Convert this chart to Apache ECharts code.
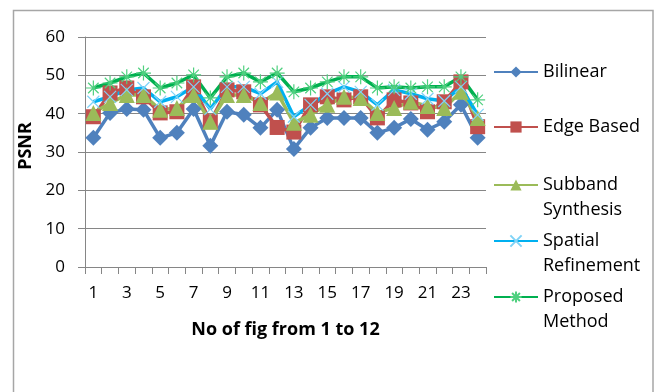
<!DOCTYPE html>
<html>
<head>
<meta charset="utf-8">
<script src="https://cdn.jsdelivr.net/npm/echarts@6/dist/echarts.min.js"></script>
<style>html,body{margin:0;padding:0;background:#fff}#c{width:656px;height:392px}</style>
</head>
<body>
<div id="c"></div>
<script>
const categories = ['1','2','3','4','5','6','7','8','9','10','11','12','13','14','15','16','17','18','19','20','21','22','23','24'];
const bilinear = [33.7, 40.2, 41.2, 41.0, 33.7, 35.0, 41.2, 31.6, 40.5, 39.7, 36.3, 41.0, 30.8, 36.3, 38.9, 38.9, 38.9, 35.0, 36.3, 38.6, 35.8, 37.9, 42.3, 33.7];
const edgeBased = [39.2, 45.4, 46.7, 44.4, 40.2, 40.5, 47.0, 37.9, 46.2, 45.7, 42.3, 36.4, 35.2, 42.3, 44.4, 43.6, 44.4, 38.9, 43.6, 42.8, 40.5, 43.1, 48.3, 36.6];
const subband = [40.2, 42.8, 44.9, 44.9, 41.0, 41.5, 44.9, 37.9, 44.9, 44.9, 42.8, 45.5, 37.6, 39.7, 42.3, 44.4, 44.1, 40.2, 41.5, 43.1, 42.0, 41.5, 45.7, 38.9];
const spatial = [43.1, 44.4, 46.2, 46.7, 43.1, 44.4, 47.0, 41.2, 47.0, 47.0, 45.2, 48.3, 39.2, 42.3, 45.2, 47.0, 45.7, 42.3, 46.2, 45.2, 43.9, 43.3, 47.0, 39.7];
const proposed = [46.7, 48.0, 49.6, 50.6, 46.7, 48.0, 50.1, 44.1, 49.6, 50.6, 48.3, 50.6, 45.7, 46.7, 48.3, 49.6, 49.6, 46.7, 47.0, 46.7, 47.0, 47.0, 49.6, 43.6];
const yTicks = {min: 0, max: 60, interval: 10};
const seriesNames = ['Bilinear', 'Edge Based', 'Subband Synthesis', 'Spatial Refinement', 'Proposed Method'];
const legendLabels = {
  'Bilinear': 'Bilinear',
  'Edge Based': 'Edge Based',
  'Subband Synthesis': '\nSubband\nSynthesis',
  'Spatial Refinement': '\nSpatial\nRefinement',
  'Proposed Method': '\nProposed\nMethod'
};

const FONT = '"Open Sans", sans-serif';
const chart = echarts.init(document.getElementById('c'), null, {renderer: 'canvas'});
const legendTops = [59.5, 114.5, 147.5, 203.5, 259.5];
const legends = seriesNames.map((n, i) => ({
  data: [n],
  left: 493,
  top: legendTops[i],
  padding: 0,
  orient: 'vertical',
  itemWidth: 44,
  itemHeight: 14,
  selectedMode: false,
  formatter: name => legendLabels[name],
  textStyle: {fontFamily: FONT, fontSize: 18, color: '#000', lineHeight: 25}
}));

const xPath = 'path://M0,0L10,10M0,10L10,0';
const starPath = 'path://M5,0L5,10M0,5L10,5M1.5,1.5L8.5,8.5M1.5,8.5L8.5,1.5';

chart.setOption({
  animation: false,
  backgroundColor: '#fff',
  graphic: [{
    type: 'rect', silent: true,
    shape: {x: 13.5, y: 10.5, width: 639.5, height: 420},
    style: {fill: 'none', stroke: '#a6a6a6', lineWidth: 1.5}
  }],
  grid: {left: 85, top: 37, width: 401, height: 230, containLabel: false},
  legend: legends,
  xAxis: {
    type: 'category',
    data: categories,
    boundaryGap: true,
    name: 'No of fig from 1 to 12',
    nameLocation: 'middle',
    nameGap: 54,
    nameTextStyle: {fontFamily: FONT, fontSize: 18, fontWeight: 'bold', color: '#000', verticalAlign: 'top'},
    axisLine: {lineStyle: {color: '#868686', width: 1}},
    axisTick: {show: true, interval: 0, length: 7, lineStyle: {color: '#868686'}},
    axisLabel: {interval: 1, margin: 18, fontFamily: FONT, fontSize: 17, color: '#000'},
    splitLine: {show: false}
  },
  yAxis: {
    type: 'value',
    min: yTicks.min, max: yTicks.max, interval: yTicks.interval,
    name: 'PSNR',
    nameLocation: 'middle',
    nameGap: 41,
    nameRotate: 90,
    nameTextStyle: {fontFamily: FONT, fontSize: 18, fontWeight: 'bold', color: '#000', padding: [0, 0, 0, 12]},
    axisLine: {show: true, lineStyle: {color: '#868686', width: 1}},
    axisTick: {show: true, length: 7, lineStyle: {color: '#868686'}},
    axisLabel: {margin: 20, fontFamily: FONT, fontSize: 17, color: '#000'},
    splitLine: {show: true, lineStyle: {color: '#868686', width: 1}}
  },
  series: [
    {name: seriesNames[0], type: 'line', data: bilinear, symbol: 'diamond', symbolSize: 16, showAllSymbol: true,
      lineStyle: {color: '#4F81BD', width: 3.5}, itemStyle: {color: '#4F81BD'}},
    {name: seriesNames[1], type: 'line', data: edgeBased, symbol: 'rect', symbolSize: 15, showAllSymbol: true,
      lineStyle: {color: '#C0504D', width: 3.5}, itemStyle: {color: '#C0504D'}},
    {name: seriesNames[2], type: 'line', data: subband, symbol: 'triangle', symbolSize: 16, showAllSymbol: true,
      lineStyle: {color: '#9BBB59', width: 3.5}, itemStyle: {color: '#9BBB59'}},
    {name: seriesNames[3], type: 'line', data: spatial, symbol: xPath, symbolSize: 12, showAllSymbol: true,
      lineStyle: {color: '#00B0F0', width: 3.5}, itemStyle: {color: 'none', borderColor: '#7fd3f7', borderWidth: 1.2}},
    {name: seriesNames[4], type: 'line', data: proposed, symbol: starPath, symbolSize: 15, showAllSymbol: true,
      lineStyle: {color: '#00B050', width: 3.5}, itemStyle: {color: 'none', borderColor: '#4fd07f', borderWidth: 1.2}}
  ]
});
</script>
</body>
</html>
